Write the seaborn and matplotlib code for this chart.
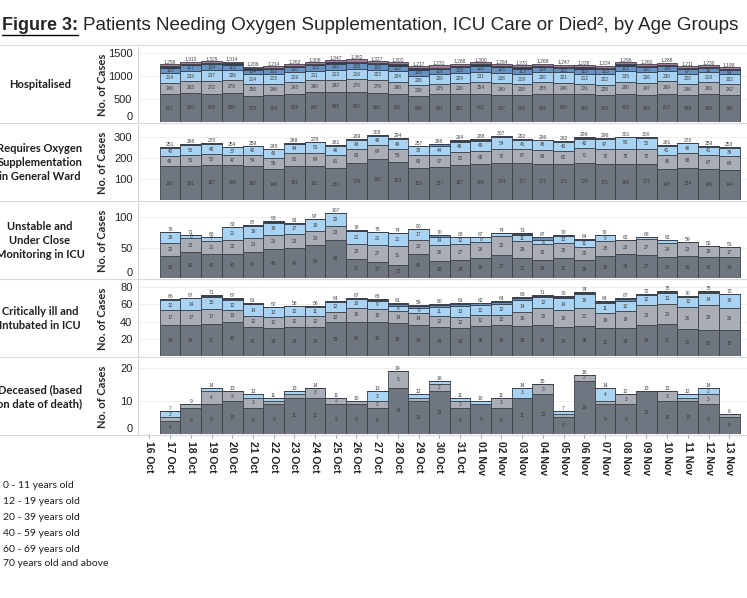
import numpy as np
import pandas as pd
import matplotlib
matplotlib.use("Agg")
import matplotlib.pyplot as plt
from matplotlib.lines import Line2D
import seaborn as sns

# x axis: one tick per day, bars from 17 Oct to 13 Nov
date_labels = ["16 Oct", "17 Oct", "18 Oct", "19 Oct", "20 Oct", "21 Oct", "22 Oct", "23 Oct",
               "24 Oct", "25 Oct", "26 Oct", "27 Oct", "28 Oct", "29 Oct", "30 Oct", "31 Oct",
               "01 Nov", "02 Nov", "03 Nov", "04 Nov", "05 Nov", "06 Nov", "07 Nov", "08 Nov",
               "09 Nov", "10 Nov", "11 Nov", "12 Nov", "13 Nov", "14 Nov"]
bar_days = list(range(1, 29))

age_groups = ["0 - 11 years old", "12 - 19 years old", "20 - 39 years old",
              "40 - 59 years old", "60 - 69 years old", "70 years old and above"]
age_colors = ["#a87a97", "#2f3b55", "#6592c2", "#a9d3f2", "#a9adb6", "#70767f"]

# Hospitalised
hosp_0 = [46, 46, 47, 42, 39, 40, 43, 46, 52, 53, 46, 48, 51, 47, 50, 50, 47, 46, 46, 41, 43, 46, 46, 45, 43, 38, 37, 40]
hosp_12 = [30, 31, 31, 27, 26, 26, 28, 29, 34, 33, 30, 31, 32, 30, 32, 31, 29, 29, 30, 27, 28, 29, 29, 28, 27, 25, 24, 25]
hosp_20 = [115, 117, 124, 113, 104, 103, 110, 115, 131, 128, 116, 122, 126, 118, 125, 122, 115, 113, 114, 103, 110, 113, 113, 110, 106, 97, 92, 99]
hosp_40 = [214, 233, 237, 226, 214, 215, 219, 211, 213, 216, 223, 224, 206, 200, 224, 231, 236, 219, 220, 221, 212, 222, 235, 236, 230, 220, 218, 202]
hosp_60 = [246, 263, 272, 278, 250, 246, 243, 260, 262, 270, 279, 266, 236, 235, 236, 254, 240, 238, 255, 246, 231, 228, 260, 247, 269, 246, 260, 242]
hosp_70 = [607, 620, 618, 628, 573, 584, 619, 647, 655, 662, 633, 611, 566, 601, 601, 612, 597, 586, 604, 609, 604, 586, 613, 594, 613, 585, 599, 590]
hosp_total = [1258, 1310, 1329, 1314, 1206, 1214, 1262, 1308, 1347, 1362, 1327, 1302, 1217, 1231, 1268, 1300, 1264, 1231, 1269, 1247, 1228, 1224, 1296, 1260, 1288, 1211, 1230, 1198]

# Requires oxygen supplementation in general ward
oxy_0 = [0, 0, 0, 0, 0, 0, 0, 0, 0, 0, 0, 0, 0, 0, 0, 0, 0, 0, 0, 0, 0, 0, 0, 0, 0, 0, 0, 0]
oxy_12 = [1, 2, 1, 1, 1, 0, 1, 0, 1, 1, 0, 1, 1, 2, 2, 1, 2, 2, 0, 1, 2, 2, 0, 1, 1, 0, 1, 1]
oxy_20 = [1, 3, 4, 3, 2, 1, 1, 2, 2, 4, 1, 2, 1, 8, 5, 4, 7, 5, 1, 6, 6, 6, 1, 5, 5, 0, 4, 5]
oxy_40 = [40, 50, 48, 37, 42, 43, 44, 51, 46, 43, 46, 49, 39, 44, 48, 49, 54, 41, 45, 40, 42, 47, 56, 52, 41, 48, 41, 39]
oxy_60 = [48, 52, 50, 47, 54, 55, 61, 64, 61, 63, 64, 59, 63, 57, 62, 65, 70, 67, 68, 62, 71, 70, 75, 70, 66, 68, 67, 64]
oxy_70 = [161, 161, 167, 166, 160, 146, 162, 161, 151, 178, 197, 183, 153, 157, 167, 169, 174, 177, 172, 173, 178, 171, 169, 172, 148, 154, 146, 144]
oxy_total = [251, 268, 270, 254, 259, 245, 269, 278, 261, 289, 308, 294, 257, 268, 284, 288, 307, 292, 286, 282, 299, 296, 301, 300, 261, 270, 259, 253]

# Unstable and under close monitoring in ICU
icu_0 = [0, 0, 0, 0, 0, 0, 0, 0, 0, 0, 0, 0, 0, 0, 0, 0, 0, 0, 0, 0, 0, 0, 0, 0, 0, 0, 0, 0]
icu_12 = [0, 0, 0, 0, 1, 1, 1, 0, 0, 1, 0, 0, 0, 0, 0, 0, 0, 1, 0, 0, 1, 0, 0, 0, 0, 0, 0, 0]
icu_20 = [0, 0, 0, 0, 1, 2, 1, 1, 1, 0, 0, 0, 0, 2, 0, 0, 1, 1, 4, 1, 1, 0, 0, 0, 0, 0, 0, 0]
icu_40 = [18, 6, 7, 21, 19, 19, 17, 19, 20, 21, 21, 21, 17, 14, 12, 8, 4, 11, 8, 12, 11, 9, 0, 4, 4, 0, 0, 0]
icu_60 = [22, 23, 21, 22, 23, 23, 23, 23, 23, 25, 27, 31, 23, 26, 27, 26, 32, 28, 25, 25, 22, 25, 23, 27, 24, 23, 18, 17]
icu_70 = [36, 42, 40, 40, 43, 48, 49, 54, 63, 31, 27, 22, 40, 28, 29, 33, 37, 32, 30, 32, 29, 36, 39, 37, 34, 36, 34, 34]
icu_total = [76, 71, 68, 83, 87, 93, 91, 97, 107, 78, 75, 74, 80, 70, 68, 67, 74, 73, 67, 70, 64, 70, 62, 68, 62, 59, 52, 51]

# Critically ill and intubated in ICU
intu_0 = [0, 0, 0, 0, 0, 0, 0, 0, 0, 0, 0, 0, 0, 0, 0, 0, 0, 0, 0, 0, 0, 0, 0, 0, 0, 0, 0, 0]
intu_12 = [0, 0, 1, 1, 1, 0, 0, 0, 0, 1, 1, 1, 1, 1, 1, 1, 1, 1, 1, 1, 1, 1, 1, 0, 1, 1, 1, 0]
intu_20 = [1, 0, 1, 1, 0, 0, 0, 1, 1, 0, 1, 2, 2, 2, 2, 2, 3, 2, 2, 2, 1, 2, 2, 1, 1, 0, 1, 0]
intu_40 = [12, 14, 15, 12, 14, 12, 12, 11, 12, 10, 9, 6, 6, 11, 13, 12, 12, 14, 12, 14, 16, 11, 12, 12, 13, 12, 14, 16]
intu_60 = [17, 17, 17, 13, 12, 12, 12, 12, 12, 16, 15, 14, 14, 12, 12, 12, 12, 16, 20, 19, 21, 18, 19, 23, 23, 26, 29, 26]
intu_70 = [36, 36, 37, 40, 34, 33, 34, 34, 39, 40, 40, 38, 36, 34, 33, 35, 36, 35, 36, 34, 35, 32, 33, 36, 37, 31, 30, 30]
intu_total = [66, 67, 71, 67, 61, 57, 58, 58, 64, 67, 66, 61, 59, 60, 61, 62, 64, 68, 71, 70, 74, 64, 67, 72, 75, 70, 75, 72]

# Deceased (based on date of death)
dec_0 = [0, 0, 0, 0, 0, 0, 0, 0, 0, 0, 0, 0, 0, 0, 0, 0, 0, 0, 0, 0, 0, 0, 0, 0, 0, 0, 0, 0]
dec_12 = [0, 0, 0, 0, 0, 0, 0, 0, 0, 0, 0, 0, 0, 0, 0, 0, 0, 0, 0, 0, 0, 0, 0, 0, 0, 0, 0, 0]
dec_20 = [0, 0, 0, 0, 0, 0, 0, 0, 0, 0, 0, 0, 0, 0, 0, 0, 0, 0, 0, 0, 0, 0, 0, 0, 0, 0, 0, 0]
dec_40 = [2, 0, 1, 0, 1, 1, 1, 0, 0, 0, 3, 0, 1, 1, 1, 1, 0, 3, 0, 1, 0, 4, 0, 0, 0, 1, 2, 0]
dec_60 = [1, 1, 4, 3, 3, 1, 1, 3, 2, 1, 2, 5, 1, 2, 2, 0, 3, 0, 3, 1, 2, 1, 3, 0, 3, 1, 3, 1]
dec_70 = [4, 8, 9, 10, 8, 9, 11, 11, 9, 9, 8, 14, 10, 13, 8, 9, 8, 11, 12, 5, 16, 9, 9, 13, 10, 10, 9, 5]
dec_total = [7, 9, 14, 13, 12, 11, 13, 14, 11, 10, 13, 19, 12, 16, 11, 10, 11, 14, 15, 7, 18, 14, 12, 13, 13, 12, 14, 6]

panels = [
    ("Hospitalised", [hosp_0, hosp_12, hosp_20, hosp_40, hosp_60, hosp_70], hosp_total,
     (0, 1630), [0, 500, 1000, 1500]),
    ("Requires Oxygen\nSupplementation\nin General Ward", [oxy_0, oxy_12, oxy_20, oxy_40, oxy_60, oxy_70], oxy_total,
     (0, 357), [100, 200, 300]),
    ("Unstable and\nUnder Close\nMonitoring in ICU", [icu_0, icu_12, icu_20, icu_40, icu_60, icu_70], icu_total,
     (0, 123), [0, 50, 100]),
    ("Critically ill and\nIntubated in ICU", [intu_0, intu_12, intu_20, intu_40, intu_60, intu_70], intu_total,
     (0, 87), [20, 40, 60, 80]),
    ("Deceased (based\non date of death)", [dec_0, dec_12, dec_20, dec_40, dec_60, dec_70], dec_total,
     (0, 22.7), [0, 10, 20]),
]

sns.set_theme(style="white")
plt.rcParams["font.family"] = ["Liberation Sans", "DejaVu Sans"]

W, H = 747, 598
fig = plt.figure(figsize=(W / 100, H / 100), dpi=100)

panel_tops = [47, 125, 203, 281, 359]
panel_h = 75
ax_left, ax_right = 138, 752
palette = dict(zip(age_groups, age_colors))

for i, (row_label, series, totals, ylim, yticks) in enumerate(panels):
    top = panel_tops[i]
    ax = fig.add_axes([ax_left / W, 1 - (top + panel_h) / H, (ax_right - ax_left) / W, panel_h / H])

    rows = []
    for grp, vals in zip(age_groups, series):
        for d, v in zip(bar_days, vals):
            rows.append({"day": d, "group": grp, "count": v})
    df = pd.DataFrame(rows)

    sns.histplot(data=df, x="day", weights="count", hue="group", hue_order=age_groups,
                 palette=palette, multiple="stack", discrete=True, shrink=1.0,
                 edgecolor="#3b4049", linewidth=0.6, alpha=1, legend=False, ax=ax)

    ax.set_xlim(-0.55, 29.1)
    ax.set_ylim(*ylim)
    ax.set_yticks(yticks)
    ax.set_yticklabels([str(t) for t in yticks], fontsize=8, color="#222222")
    for lab in ax.get_yticklabels():
        if lab.get_text() == "0":
            lab.set_va("bottom")
    ax.tick_params(axis="y", length=3, width=0.6, color="#888888", pad=1)
    ax.yaxis.grid(True, color="#ececec", linewidth=0.6)
    ax.set_axisbelow(True)
    for s in ["top", "right", "bottom"]:
        ax.spines[s].set_visible(False)
    ax.spines["left"].set_color("#d4d4d4")
    ax.spines["left"].set_linewidth(0.8)

    ax.set_ylabel("No. of Cases", fontsize=8, fontweight="bold", family=["Lato", "DejaVu Sans"])
    ax.yaxis.set_label_coords((108 - ax_left) / (ax_right - ax_left), 0.5)
    ax.set_xlabel("")

    # segment values, bottom to top (70+ first)
    px_per_unit = panel_h / (ylim[1] - ylim[0])
    base = np.zeros(len(bar_days))
    for vals in series[::-1]:
        v = np.array(vals, dtype=float)
        for d, b, h in zip(bar_days, base, v):
            if h > 0 and h * px_per_unit >= 3.6:
                ax.text(d, b + h / 2, str(int(h)), ha="center", va="center",
                        fontsize=3.4, color="#3a3a3a")
        base = base + v
    for d, t, b in zip(bar_days, totals, base):
        ax.text(d, max(t, b), f"{t:,}", ha="center", va="bottom", fontsize=3.6, color="#444444")

    if i == len(panels) - 1:
        ax.set_xticks(range(len(date_labels)))
        ax.set_xticklabels(date_labels, rotation=270, fontsize=7.5, fontweight="bold", color="#222222")
        ax.tick_params(axis="x", length=3, width=0.6, color="#888888", pad=2, bottom=True)
    else:
        ax.set_xticks([])

    fig.text(40 / W, 1 - (top + panel_h / 2) / H, row_label, ha="center", va="center",
             fontsize=8, fontweight="bold", family=["Lato", "DejaVu Sans"], linespacing=1.35,
             color="#1e1e1e")

# separator lines between the rows
for y in [45, 123, 201, 279, 357, 435]:
    fig.add_artist(Line2D([0, 1], [1 - y / H, 1 - y / H], transform=fig.transFigure,
                          color="#dadada", linewidth=0.8))

# title: bold underlined "Figure 3:" then regular text
title_y = 1 - 25 / H
t1 = fig.text(2 / W, title_y, "Figure 3:", fontsize=13, fontweight="bold", va="center")
fig.canvas.draw()
bb = t1.get_window_extent(fig.canvas.get_renderer())
fig.add_artist(Line2D([bb.x0 / W, bb.x1 / W], [(bb.y0 - 1) / H, (bb.y0 - 1) / H],
                      transform=fig.transFigure, color="black", linewidth=1.0))
fig.text(bb.x1 / W + 5 / W, title_y,
         "Patients Needing Oxygen Supplementation, ICU Care or Died\u00b2, by Age Groups",
         fontsize=13.6, va="center")

# legend labels (colour keys fall outside the crop)
legend_y = [486, 502, 517, 533, 549, 564]
for lab, y in zip(age_groups, legend_y):
    fig.text(3 / W, 1 - y / H, lab, fontsize=7.5, va="center", family=["Lato", "DejaVu Sans"],
             color="#1e1e1e")

fig.savefig("out.png", dpi=100)
